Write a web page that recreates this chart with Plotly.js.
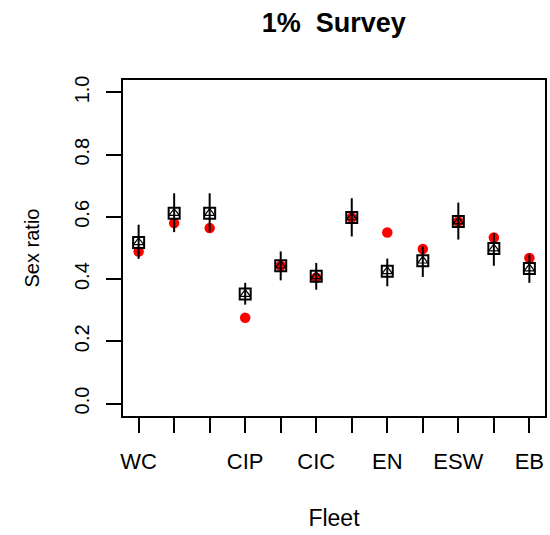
<!DOCTYPE html>
<html>
<head>
<meta charset="utf-8">
<script src="https://cdn.plot.ly/plotly-3.0.1.min.js"></script>
<style>
  html, body { margin: 0; padding: 0; background: #ffffff; }
  #chart { width: 550px; height: 535px; }
</style>
</head>
<body>
<div id="chart"></div>
<script>
// Fleet positions along the x axis and the labels shown under them
const fleetPos = [1, 2, 3, 4, 5, 6, 7, 8, 9, 10, 11, 12];
const fleetLabels = ['WC', '', '', 'CIP', '', 'CIC', '', 'EN', '', 'ESW', '', 'EB'];

// Observed sex ratio (red dots)
const observed = [0.489, 0.580, 0.564, 0.276, 0.443, 0.405, 0.598, 0.550, 0.497, 0.585, 0.534, 0.468];

// Expected sex ratio (boxed markers) with interval bounds
const expected = [0.518, 0.612, 0.612, 0.352, 0.443, 0.409, 0.598, 0.425, 0.459, 0.585, 0.498, 0.434];
const ciLow    = [0.465, 0.551, 0.553, 0.318, 0.396, 0.366, 0.537, 0.377, 0.407, 0.527, 0.443, 0.388];
const ciHigh   = [0.575, 0.676, 0.676, 0.388, 0.489, 0.452, 0.660, 0.466, 0.505, 0.646, 0.548, 0.479];

const errPlus  = expected.map((v, i) => ciHigh[i] - v);
const errMinus = expected.map((v, i) => v - ciLow[i]);

const FONT = 'Liberation Sans, Arial, sans-serif';

const traces = [
  {
    x: fleetPos, y: observed, type: 'scatter', mode: 'markers',
    marker: { symbol: 'circle', size: 10.5, color: '#ff0000', line: { width: 0 } },
    hoverinfo: 'x+y', showlegend: false
  },
  {
    x: fleetPos, y: expected, type: 'scatter', mode: 'markers',
    marker: { symbol: 'square-open', size: 11, color: '#000000', line: { width: 2, color: '#000000' } },
    error_y: { type: 'data', symmetric: false, array: errPlus, arrayminus: errMinus,
               width: 0, thickness: 2, color: '#000000' },
    hoverinfo: 'x+y', showlegend: false
  },
  {
    x: fleetPos, y: expected, type: 'scatter', mode: 'markers',
    marker: { symbol: 'triangle-up-open', size: 9, color: '#000000', line: { width: 1.2, color: '#000000' } },
    hoverinfo: 'skip', showlegend: false
  }
];

const layout = {
  width: 550, height: 535,
  margin: { l: 122.5, r: 5, t: 79.5, b: 118.5, pad: 0 },
  paper_bgcolor: '#ffffff', plot_bgcolor: '#ffffff',
  font: { family: FONT, color: '#000000', size: 20 },
  title: {
    text: '<b>1%  Survey</b>',
    font: { family: FONT, size: 27, color: '#000000' },
    x: 0.607, xanchor: 'center', y: 0.958, yanchor: 'middle'
  },
  xaxis: {
    range: [0.56, 12.44], tickmode: 'array', tickvals: fleetPos, ticktext: fleetLabels,
    ticks: 'outside', ticklen: 15, tickwidth: 2, tickcolor: '#000000',
    showline: true, linewidth: 2, linecolor: '#000000', mirror: true,
    showgrid: false, zeroline: false,
    tickfont: { family: FONT, size: 22, color: '#000000' },
    ticklabelstandoff: 10,
    title: { text: 'Fleet', font: { family: FONT, size: 23, color: '#000000' }, standoff: 36 }
  },
  yaxis: {
    range: [-0.04, 1.04], tickmode: 'array',
    tickvals: [0, 0.2, 0.4, 0.6, 0.8, 1.0],
    ticktext: ['0.0', '0.2', '0.4', '0.6', '0.8', '1.0'],
    ticks: 'outside', ticklen: 15, tickwidth: 2, tickcolor: '#000000',
    showline: true, linewidth: 2, linecolor: '#000000', mirror: true,
    showgrid: false, zeroline: false, tickangle: -90,
    tickfont: { family: FONT, size: 20, color: '#000000' },
    ticklabelstandoff: 9,
    title: { text: 'Sex ratio', font: { family: FONT, size: 20, color: '#000000' }, standoff: 26 }
  }
};

Plotly.newPlot('chart', traces, layout, { staticPlot: true, displayModeBar: false });
</script>
</body>
</html>
